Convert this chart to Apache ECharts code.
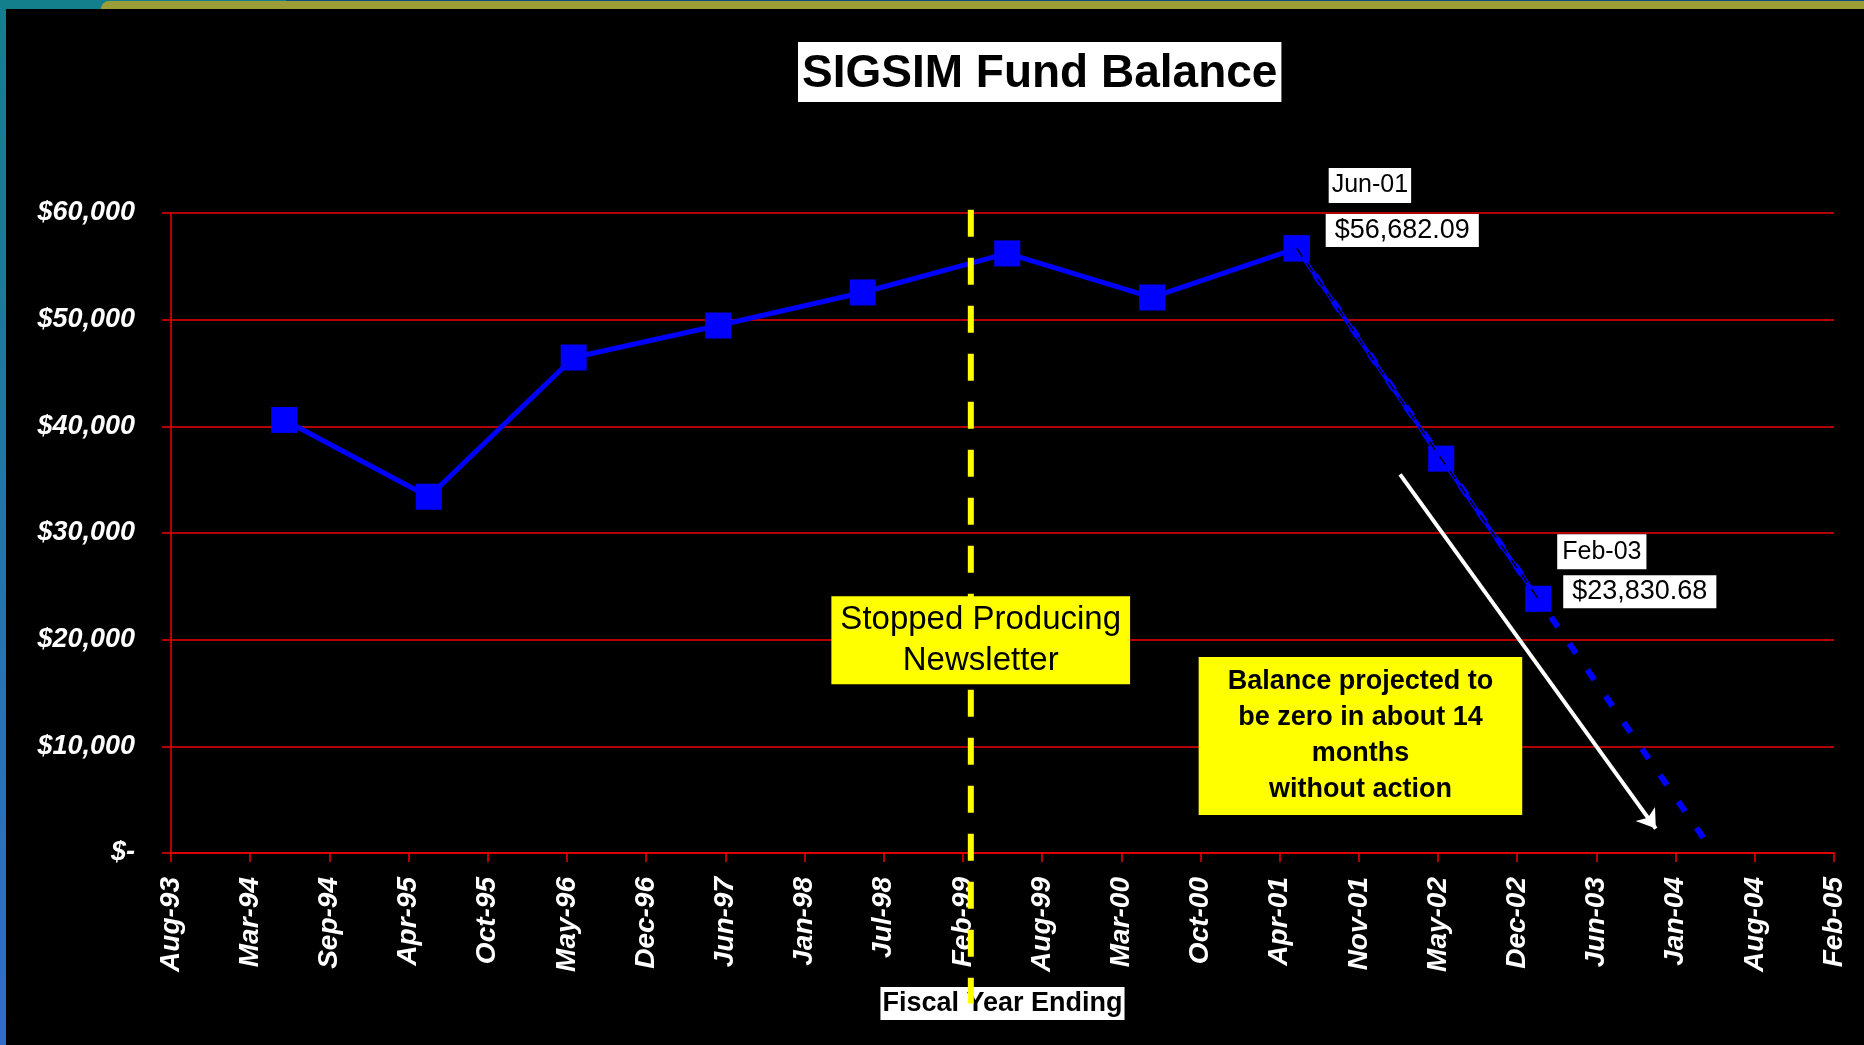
<!DOCTYPE html>
<html>
<head>
<meta charset="utf-8">
<script src="https://cdn.jsdelivr.net/npm/echarts@6/dist/echarts.min.js"></script>
<style>
html, body { margin: 0; padding: 0; background: #000; }
#chart { width: 1864px; height: 1045px; }
</style>
</head>
<body>
<div id="chart"></div>
<script>
// fiscal year balances (dates)
const fiscalDates = ['1994-06-01', '1995-06-01', '1996-06-01', '1997-06-01', '1998-06-01',
	'1999-06-01', '2000-06-01', '2001-06-01', '2002-06-01', '2003-02-01']
const balances = [40600, 33400, 46450, 49450, 52550, 56210, 52080, 56682.09, 36970, 23830.68]
// the last three points are drawn as the "recent" segment
const recentFrom = 7

// projection to zero
const projectionDates = ['2001-06-01', '2004-03-29']
const projectionValues = [56682.09, 1160]

// white arrow next to projection
const arrowDates = ['2002-02-17', '2003-11-25']
const arrowValues = [35500, 2290]

// newsletter stopped
const newsletterDate = '1999-03-01'
const calloutDates = ['2001-06-01', '2003-02-01']

// axis (Excel serial days, Aug-93 .. Feb-05 every 200 days)
const xMin = 34200
const xMax = 38400
const xStep = 200
const yMax = 60000
const yStep = 10000

const MONTHS = ['Jan', 'Feb', 'Mar', 'Apr', 'May', 'Jun', 'Jul', 'Aug', 'Sep', 'Oct', 'Nov', 'Dec']
const DAY = 86400000
const EPOCH = Date.UTC(1899, 11, 30)
const FONT = '"Liberation Sans", Arial, sans-serif'
const RED = '#f00000'

function toSerial(s) {
	const [y, m, d] = s.split('-').map(Number)
	return Math.round((Date.UTC(y, m - 1, d) - EPOCH) / DAY)
}
function monthLabel(serial) {
	const dt = new Date(EPOCH + serial * DAY)
	return MONTHS[dt.getUTCMonth()] + '-' + String(dt.getUTCFullYear() % 100).padStart(2, '0')
}
function money(v) {
	return v === 0 ? '$-' : '$' + v.toLocaleString('en-US')
}
function money2(v) {
	return '$' + v.toLocaleString('en-US', { minimumFractionDigits: 2, maximumFractionDigits: 2 })
}

const points = fiscalDates.map((d, i) => [toSerial(d), balances[i]])
const newsletterX = toSerial(newsletterDate)

// callout labels next to the Jun-01 / Feb-03 points
const calloutOffsets = [
	[[32, -63], [29, -18]],
	[[19, -47], [25, -7]],
]
const calloutData = []
calloutDates.forEach((d, k) => {
	const i = fiscalDates.indexOf(d)
	const pt = points[i]
	calloutData.push({
		value: pt,
		label: { formatter: monthLabel(pt[0]), offset: calloutOffsets[k][0], fontSize: 25, padding: [4, k ? 5 : 3] },
	})
	calloutData.push({
		value: pt,
		label: { formatter: money2(pt[1]), offset: calloutOffsets[k][1], fontSize: 27, padding: [3, 9] },
	})
})

const chart = echarts.init(document.getElementById('chart'))

chart.setOption({
	backgroundColor: '#000',
	animation: false,
	textStyle: { fontFamily: FONT },
	title: {
		text: 'SIGSIM Fund Balance',
		left: 798,
		top: 42,
		backgroundColor: '#fff',
		padding: [9, 4, 5, 4],
		textStyle: { fontSize: 46, fontWeight: 'bold', color: '#000', fontFamily: FONT, lineHeight: 46 },
	},
	graphic: [
		{ type: 'rect', shape: { x: 0, y: 0, width: 286, height: 9 }, style: { fill: '#137f8c' }, silent: true },
		{ type: 'rect', shape: { x: 286, y: 0, width: 1578, height: 1 }, style: { fill: '#0e4b82' }, silent: true },
		{ type: 'rect', shape: { x: 101, y: 1, width: 1763, height: 8, r: [8, 0, 0, 0] }, style: { fill: '#9b9d36' }, silent: true },
		{
			type: 'rect', shape: { x: 0, y: 0, width: 6, height: 1045 }, silent: true,
			style: { fill: new echarts.graphic.LinearGradient(0, 0, 0, 1, [
				{ offset: 0, color: '#137f8c' },
				{ offset: 1, color: '#2f6dcc' },
			]) },
		},
	],
	grid: { left: 171, right: 30, top: 213, bottom: 192 },
	xAxis: {
		type: 'value',
		min: xMin,
		max: xMax,
		interval: xStep,
		name: 'Fiscal Year Ending',
		nameLocation: 'middle',
		nameGap: 134,
		nameTextStyle: {
			fontSize: 27, fontWeight: 'bold', color: '#000', backgroundColor: '#fff',
			padding: [3, 2], lineHeight: 27, fontFamily: FONT,
		},
		axisLine: { lineStyle: { color: RED, width: 1.5 } },
		axisTick: { show: true, length: 9, lineStyle: { color: RED, width: 1.5 } },
		splitLine: { show: false },
		axisLabel: {
			rotate: 90,
			margin: 24,
			color: '#fff',
			fontSize: 28,
			fontWeight: 'bold',
			fontStyle: 'italic',
			fontFamily: FONT,
			showMinLabel: true,
			showMaxLabel: true,
			formatter: v => monthLabel(v),
		},
	},
	yAxis: {
		type: 'value',
		min: 0,
		max: yMax,
		interval: yStep,
		axisLine: { show: true, lineStyle: { color: RED, width: 1.5 } },
		axisTick: { show: true, length: 9, lineStyle: { color: RED, width: 1.5 } },
		splitLine: { show: true, lineStyle: { color: RED, width: 1.5 } },
		axisLabel: {
			margin: 36,
			color: '#fff',
			fontSize: 27,
			fontWeight: 'bold',
			fontStyle: 'italic',
			fontFamily: FONT,
			formatter: v => money(v),
		},
	},
	series: [
		{
			name: 'Balance',
			type: 'line',
			z: 3,
			data: points.slice(0, recentFrom + 1),
			symbol: 'rect',
			symbolSize: 26,
			itemStyle: { color: '#0000ff', opacity: 1 },
			lineStyle: { color: '#0000ff', width: 5 },
		},
		{
			name: 'Recent',
			type: 'line',
			z: 3,
			data: points.slice(recentFrom),
			symbol: 'rect',
			symbolSize: 26,
			itemStyle: { color: '#0000ff', opacity: 1 },
			lineStyle: { color: '#0000ff', width: 4 },
		},
		{
			name: 'Projection',
			type: 'line',
			z: 4,
			data: projectionDates.map((d, i) => [toSerial(d), projectionValues[i]]),
			showSymbol: false,
			symbol: 'none',
			lineStyle: { color: '#0000ff', width: 6, type: [12, 20] },
		},
		{
			name: 'RecentDash',
			type: 'line',
			z: 5,
			data: points.slice(recentFrom),
			symbol: 'none',
			lineStyle: { color: '#000', width: 1.5, type: [10, 8] },
		},
		{
			name: 'Newsletter',
			type: 'line',
			z: 6,
			clip: false,
			data: [[newsletterX, 60300], [newsletterX, -14100]],
			symbol: 'none',
			lineStyle: { color: '#ffff00', width: 6, type: [27, 21] },
		},
		{
			name: 'Arrow',
			type: 'lines',
			coordinateSystem: 'cartesian2d',
			z: 7,
			symbol: ['none', 'arrow'],
			symbolSize: [14, 18],
			lineStyle: { color: '#fff', width: 4, opacity: 1 },
			data: [{ coords: arrowDates.map((d, i) => [toSerial(d), arrowValues[i]]) }],
		},
		{
			name: 'Callouts',
			type: 'scatter',
			z: 10,
			symbolSize: 0.01,
			itemStyle: { color: '#000', opacity: 1 },
			label: {
				show: true,
				position: 'inside',
				align: 'left',
				verticalAlign: 'middle',
				color: '#000',
				backgroundColor: '#fff',
				lineHeight: 27,
				opacity: 1,
				fontFamily: FONT,
			},
			data: calloutData,
		},
		{
			name: 'Notes',
			type: 'scatter',
			z: 10,
			symbolSize: 0.01,
			itemStyle: { color: '#000', opacity: 1 },
			label: {
				show: true,
				position: 'inside',
				align: 'center',
				verticalAlign: 'middle',
				color: '#000',
				backgroundColor: '#ffff00',
				opacity: 1,
				fontFamily: FONT,
			},
			data: [
				{
					value: [toSerial('1999-03-26'), 19950],
					label: { formatter: 'Stopped Producing\nNewsletter', fontSize: 33, lineHeight: 41, padding: [3, 9] },
				},
				{
					value: [toSerial('2001-11-09'), 10980],
					label: {
						formatter: 'Balance projected to\nbe zero in about 14\nmonths\nwithout action',
						fontSize: 27, fontWeight: 'bold', lineHeight: 36, padding: [7, 29],
					},
				},
			],
		},
	],
})
</script>
</body>
</html>
